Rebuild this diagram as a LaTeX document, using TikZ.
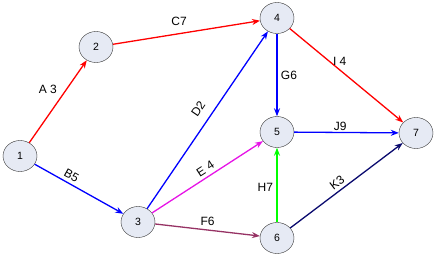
\documentclass[tikz,border=0pt]{standalone}
\usepackage{fontspec}
\setmainfont{Liberation Sans}
\usetikzlibrary{shapes.geometric,arrows.meta}
\definecolor{evfill}{RGB}{230,234,244}
\definecolor{fplum}{RGB}{150,50,100}
\definecolor{knavy}{RGB}{10,10,110}
\definecolor{emag}{RGB}{230,20,230}
\begin{document}
\begin{tikzpicture}[x=1pt,y=-1pt,>={Stealth[length=8pt,width=6pt]}, line join=round,
	ev/.style={ellipse,draw=black!80,fill=evfill,minimum width=34pt,minimum height=31pt,inner sep=0pt,font=\fontsize{10.5}{12}\selectfont},
	act/.style={->,line width=1.3pt},
	lab/.style={font=\fontsize{12}{14}\selectfont}]
	\useasboundingbox (0,0) rectangle (434,257);
	% events
	\node[ev] (n1) at (20,156) {1};
	\node[ev] (n2) at (96,47) {2};
	\node[ev] (n3) at (138,222) {3};
	\node[ev] (n4) at (277,18) {4};
	\node[ev] (n5) at (277,132) {5};
	\node[ev] (n6) at (277,238) {6};
	\node[ev] (n7) at (416,133) {7};
	% activities
	\draw[act,red] (n1)--(n2) node[lab,pos=0.55,above left,black]{A 3};
	\draw[act,blue] (n1)--(n3) node[lab,pos=0.37,sloped,above,black]{B5};
	\draw[act,red] (n2)--(n4) node[lab,pos=0.45,above=4pt,black]{C7};
	\draw[act,blue] (n3)--(n4) node[lab,pos=0.52,sloped,above=6pt,black]{D2};
	\draw[act,emag] (n3)--(n5) node[lab,pos=0.52,sloped,above,black]{E 4};
	\draw[act,fplum] (n3)--(n6) node[lab,midway,above,black]{F6};
	\draw[act,blue] (n4)--(n5) node[lab,midway,right,black]{G6};
	\draw[act,green] (n6)--(n5) node[lab,pos=0.47,left,black]{H7};
	\draw[act,red] (n4)--(n7) node[lab,pos=0.44,above,black]{I 4};
	\draw[act,blue] (n5)--(n7) node[lab,pos=0.44,above=-2pt,black]{J9};
	\draw[act,knavy] (n6)--(n7) node[lab,pos=0.46,sloped,above,black]{K3};
\end{tikzpicture}
\end{document}
